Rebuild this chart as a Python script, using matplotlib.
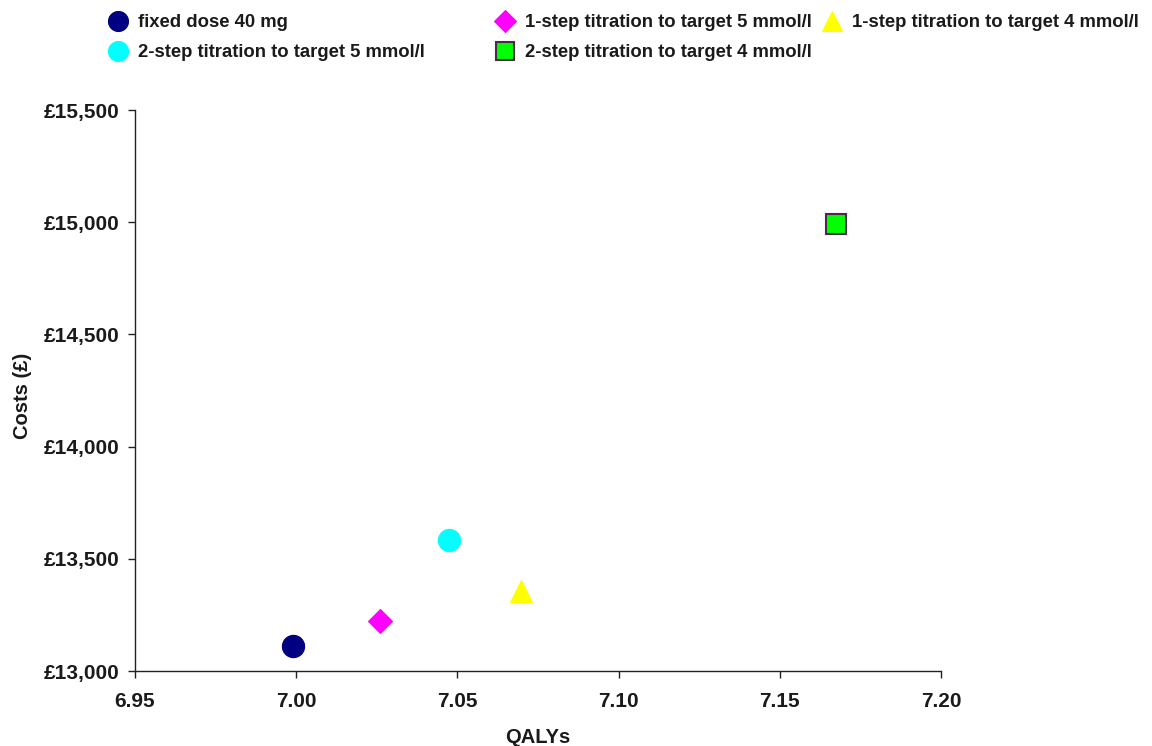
import matplotlib
matplotlib.use("Agg")
import matplotlib.pyplot as plt
from matplotlib.ticker import FuncFormatter

plt.rcParams['font.family'] = ['Liberation Sans', 'DejaVu Sans']
plt.rcParams['font.weight'] = 'bold'

strategies = ["fixed dose 40 mg",
              "1-step titration to target 5 mmol/l",
              "1-step titration to target 4 mmol/l",
              "2-step titration to target 5 mmol/l",
              "2-step titration to target 4 mmol/l"]
qalys = [6.999, 7.026, 7.0697, 7.0474, 7.1674]
costs = [13111, 13223, 13356, 13584, 14992]
markers = ["o", "D", "^", "o", "s"]
colors = ["#000080", "#FF00FF", "#FFFF00", "#00FFFF", "#00FF00"]
edges = ["#000080", "#FF00FF", "#FFFF00", "#00FFFF", "#4a2a4a"]
sizes = [16, 12, 16, 16, 15]

xticks = [6.95, 7.00, 7.05, 7.10, 7.15, 7.20]
yticks = [13000, 13500, 14000, 14500, 15000, 15500]

fig = plt.figure(figsize=(11.52, 7.46), dpi=100)
ax = fig.add_axes([0.1172, 0.1005, 0.6996, 0.752])

handles = {}
for s, x, y, m, c, e, ms in zip(strategies, qalys, costs, markers, colors, edges, sizes):
    h, = ax.plot([x], [y], linestyle='none', marker=m, markersize=ms,
                 markerfacecolor=c, markeredgecolor=e, markeredgewidth=1.5 if m == 's' else 0.8,
                 label=s, clip_on=False)
    handles[s] = h

ax.set_xlim(6.95, 7.20)
ax.set_ylim(13000, 15500)
ax.set_xticks(xticks)
ax.set_yticks(yticks)
ax.xaxis.set_major_formatter(FuncFormatter(lambda v, p: f"{v:.2f}"))
ax.yaxis.set_major_formatter(FuncFormatter(lambda v, p: f"£{int(round(v)):,}"))
for sp in ['top', 'right']:
    ax.spines[sp].set_visible(False)
for sp in ['left', 'bottom']:
    ax.spines[sp].set_linewidth(1.0)
    ax.spines[sp].set_color('#222222')
ax.tick_params(axis='both', direction='out', length=5, width=1.0, color='#222222',
               labelsize=15)
ax.tick_params(axis='x', pad=10)
ax.tick_params(axis='y', pad=6)
for lab in ax.get_xticklabels() + ax.get_yticklabels():
    lab.set_fontweight('bold')
    lab.set_color('#1a1a1a')

ax.set_xlabel("QALYs", fontsize=14.5, fontweight='bold', color='#1a1a1a', labelpad=12)
ax.set_ylabel("Costs (£)", fontsize=14.5, fontweight='bold', color='#1a1a1a')
ax.yaxis.set_label_coords(-0.128, 0.49)

# legend in three columns, placed as in the reference
cols = [[strategies[0], strategies[3]], [strategies[1], strategies[4]], [strategies[2]]]
xs = [0.0833, 0.4193, 0.7033]
for col, xpos in zip(cols, xs):
    leg = fig.legend([handles[s] for s in col], col, loc='upper left',
                     bbox_to_anchor=(xpos, 0.998), frameon=False, fontsize=13.3,
                     handlelength=1.0, handletextpad=0.55, labelspacing=0.68,
                     markerscale=0.9, borderaxespad=0.3)
    for t in leg.get_texts():
        t.set_fontweight('bold')
        t.set_color('#1a1a1a')

fig.savefig("out.png", dpi=100)
